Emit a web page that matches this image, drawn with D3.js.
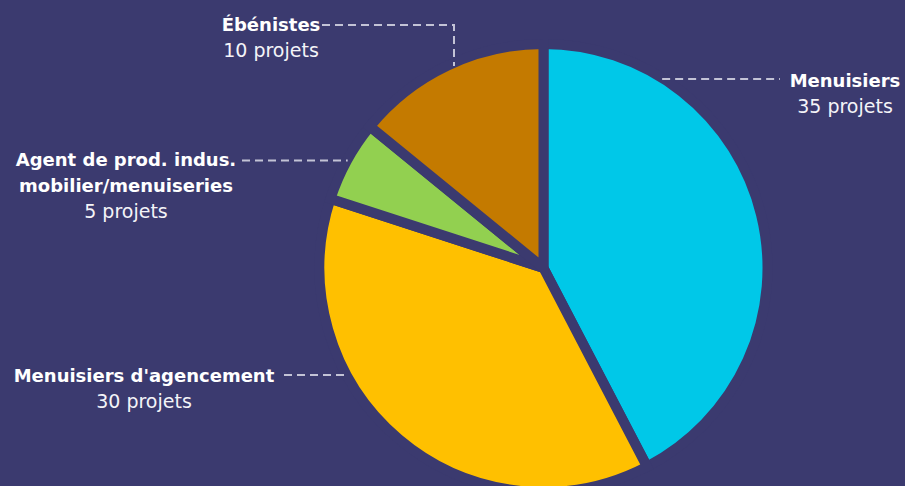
<!DOCTYPE html>
<html>
<head>
<meta charset="utf-8">
<script src="https://cdn.jsdelivr.net/npm/d3@7"></script>
<style>
  html, body { margin: 0; padding: 0; background: #3b3a6f; }
  svg { display: block; }
  .name { font-family: "DejaVu Sans", sans-serif; font-weight: bold; font-size: 18px; fill: #ffffff; }
  .count { font-family: "DejaVu Sans", sans-serif; font-size: 19px; fill: #f4f4f8; }
</style>
</head>
<body>
<svg id="chart"></svg>
<script>
// categories, clockwise from 12 o'clock
var categories = ["Menuisiers", "Menuisiers d'agencement", "Agent de prod. indus. mobilier/menuiseries", "Ébénistes"];
var sliceValues = [36, 32, 5, 12];
// counts printed in the labels
var projectCounts = [35, 30, 5, 10];
var labelLines = [
  ["Menuisiers"],
  ["Menuisiers d'agencement"],
  ["Agent de prod. indus.", "mobilier/menuiseries"],
  ["Ébénistes"]
];
var colors = ["#00c8e8", "#ffc000", "#92d050", "#c47a00"];

var width = 905, height = 486;
var bg = "#3b3a6f";
var cx = 543.5, cy = 268;
var gap = 10;
var radius = 219 + gap / 2;

var svg = d3.select("#chart")
  .attr("width", width)
  .attr("height", height);

svg.append("rect")
  .attr("width", width)
  .attr("height", height)
  .attr("fill", bg);

var data = categories.map(function(c, i) {
  return { name: c, value: sliceValues[i], count: projectCounts[i], lines: labelLines[i], color: colors[i] };
});

var pie = d3.pie()
  .sort(null)
  .value(d => d.value);

var arc = d3.arc()
  .innerRadius(0)
  .outerRadius(radius);

var arcs = pie(data);

var g = svg.append("g")
  .attr("transform", "translate(" + cx + "," + cy + ")");

g.selectAll("path")
  .data(arcs)
  .enter()
  .append("path")
    .attr("d", arc)
    .attr("fill", d => d.data.color)
    .attr("stroke", bg)
    .attr("stroke-width", gap)
    .attr("stroke-linejoin", "miter");

// label placement (anchor = centre of text block, first baseline) and leader paths
var r = radius - gap / 2;
function edgeX(y, side) {
  var dy = y - cy;
  return cx + side * Math.sqrt(r * r - dy * dy);
}
function edgeY(x) {
  var dx = x - cx;
  return cy - Math.sqrt(r * r - dx * dx);
}

var layout = [
  { x: 845, y: 87, leader: function() { var y = 79; return [[edgeX(y, 1) + 8, y], [780, y]]; } },
  { x: 144, y: 382, leader: function() { var y = 375; return [[284, y], [edgeX(y, -1) - 5, y]]; } },
  { x: 126, y: 166, leader: function() { var y = 160.5; return [[242, y], [edgeX(y, -1) - 5, y]]; } },
  { x: 271, y: 31, leader: function() { var y = 25, x = 454; return [[322, y], [x, y], [x, edgeY(x) - 2]]; } }
];

var lineGen = d3.line();

svg.selectAll(".leader")
  .data(layout)
  .enter()
  .append("path")
    .attr("class", "leader")
    .attr("d", d => lineGen(d.leader()))
    .attr("fill", "none")
    .attr("stroke", "#c3c3d6")
    .attr("stroke-width", 2)
    .attr("stroke-dasharray", "8,5");

var labels = svg.selectAll(".label")
  .data(arcs)
  .enter()
  .append("text")
    .attr("class", "label")
    .attr("text-anchor", "middle");

labels.each(function(d, i) {
  var t = d3.select(this);
  var pos = layout[i];
  d.data.lines.forEach(function(line, j) {
    t.append("tspan")
      .attr("class", "name")
      .attr("x", pos.x)
      .attr("y", pos.y + j * 26)
      .text(line);
  });
  t.append("tspan")
    .attr("class", "count")
    .attr("x", pos.x)
    .attr("y", pos.y + d.data.lines.length * 26)
    .text(d.data.count + " projets");
});
</script>
</body>
</html>
